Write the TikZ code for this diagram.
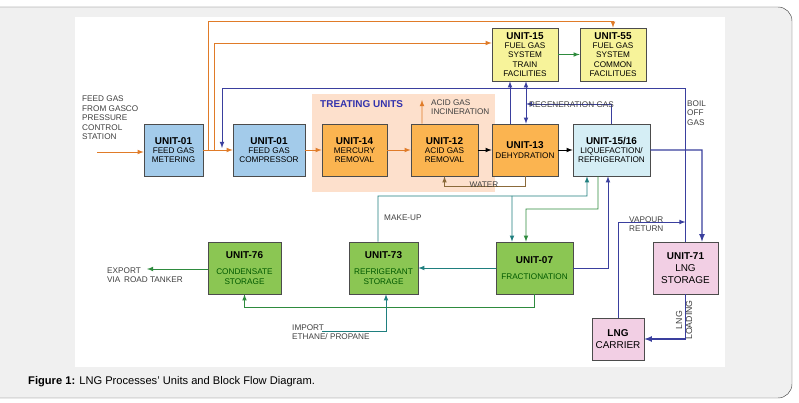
\documentclass[tikz,border=0pt]{standalone}
\usepackage{fontspec}
\setmainfont{Liberation Sans}
\usetikzlibrary{calc}
\definecolor{oline}{HTML}{E07B28}
\definecolor{bline}{HTML}{3A3F9E}
\definecolor{gline}{HTML}{2E8B3E}
\definecolor{tline}{HTML}{1F7F7F}
\definecolor{wline}{HTML}{8B6A3A}
\definecolor{ublue}{HTML}{A3CBEA}
\definecolor{uorange}{HTML}{FBB450}
\definecolor{ucyan}{HTML}{D5EEF5}
\definecolor{uyellow}{HTML}{F7F39A}
\definecolor{ugreen}{HTML}{8BC653}
\definecolor{upink}{HTML}{F2CFE4}
\definecolor{treat}{HTML}{FDE0CC}
\tikzset{
  unit/.style={draw=black!70, semithick, inner sep=0pt, minimum height=1.56cm, align=center,
    font=\fontsize{7}{8}\selectfont},
  oarr/.style={-latex, oline, thick},
  barr/.style={-latex, bline, thick},
  garr/.style={-latex, gline, thick},
  tarr/.style={-latex, tline, thick},
  karr/.style={-latex, black, thick},
  warr/.style={-latex, wline, thick},
  lbl/.style={font=\fontsize{7}{8}\selectfont, text=black!75, align=left, inner sep=0pt}
}
\newcommand{\ut}[1]{{\fontsize{8.5}{10}\selectfont\bfseries #1}}
\begin{document}
\begin{tikzpicture}[x=0.03cm, y=-0.03cm]
		\useasboundingbox (0,0) rectangle (799,403);
		\draw[black!70, fill=black!6, rounded corners=12] (-20,7) rectangle (792,398);
		\fill[white] (75,17) rectangle (725,367);
		\fill[treat] (312,94) rectangle (495,192);
		
		% units
		\node[unit, fill=ublue, minimum width=1.77cm] (m01) at (173.5,150) {\ut{UNIT-01}\\FEED GAS\\METERING};
		\node[unit, fill=ublue, minimum width=2.16cm] (c01) at (269,150) {\ut{UNIT-01}\\FEED GAS\\COMPRESSOR};
		\node[unit, fill=uorange, minimum width=1.95cm] (u14) at (354.5,150) {\ut{UNIT-14}\\MERCURY\\REMOVAL};
		\node[unit, fill=uorange, minimum width=2.01cm] (u12) at (444.5,150) {\ut{UNIT-12}\\ACID GAS\\REMOVAL};
		\node[unit, fill=uorange, minimum width=1.98cm] (u13) at (525,150) {\ut{UNIT-13}\\DEHYDRATION};
		\node[unit, fill=ucyan, minimum width=2.31cm] (u1516) at (611.5,150) {\ut{UNIT-15/16}\\LIQUEFACTION/\\REFRIGERATION};
		\node[unit, fill=uyellow, minimum width=1.98cm, minimum height=1.59cm] (u15) at (525,54.5) {\ut{UNIT-15}\\FUEL GAS\\SYSTEM\\TRAIN\\FACILITIES};
		\node[unit, fill=uyellow, minimum width=1.98cm, minimum height=1.59cm] (u55) at (613,54.5) {\ut{UNIT-55}\\FUEL GAS\\SYSTEM\\COMMON\\FACILITUES};
		\node[unit, fill=ugreen, minimum width=2.19cm, text=green!35!black] (u76) at (244.5,268) {\ut{\textcolor{black}{UNIT-76}}\\[6pt]CONDENSATE\\STORAGE};
		\node[unit, fill=ugreen, minimum width=2.07cm, text=green!35!black] (u73) at (383.5,268) {\ut{\textcolor{black}{UNIT-73}}\\[6pt]REFRIGERANT\\STORAGE};
		\node[unit, fill=ugreen, minimum width=2.31cm, text=green!35!black] (u07) at (534.5,268) {\ut{\textcolor{black}{UNIT-07}}\\[6pt]FRACTIONATION};
		\node[unit, fill=upink, minimum width=1.95cm, font=\fontsize{8.5}{10}\selectfont] (u71) at (685.5,268) {\ut{UNIT-71}\\LNG\\STORAGE};
		\node[unit, fill=upink, minimum width=1.56cm, minimum height=1.26cm, font=\fontsize{8.5}{10}\selectfont] (car) at (618,339) {\ut{LNG}\\CARRIER};
		
		% feed and fuel gas
		\coordinate (feed) at (97,152);
		\draw[oarr] (feed) -- (m01.west |- feed);
		\draw[oarr] (m01) -- (c01);
		\draw[oarr] (208,150) -- (208,21) -| (u55.north);
		\draw[oarr] (214,150) |- ([yshift=0.345cm]u15.west);
		\draw[oarr] (c01) -- (u14);
		\draw[oarr] (u14) -- (u12);
		\coordinate (acid) at (422,100);
		\draw[oarr] ([xshift=-0.675cm]u12.north) -- (acid);
		\draw[karr] (u12) -- (u13);
		\draw[karr] (u13) -- (u1516);
		\draw[garr] (u15) -- (u55);
		\draw[warr] (u13.south) -- (525,186) -| (u12.south);
		
		% blue lines
		\draw[barr] (u71.north) -- (685.5,88) -| (222,148);
		\draw[barr, very thick] (u1516.east) -- (702,150) -- ([xshift=0.495cm]u71.north);
		\draw[barr] ([xshift=-0.45cm]u13.north) -- ([xshift=-0.45cm]u15.south);
		\coordinate (rg) at (526,104);
		\draw[barr] (u1516.north) |- (rg);
		\draw[barr] (rg) -- (rg |- u15.south);
		\draw[barr] (rg) -- (rg |- u13.north);
		\draw[barr] (u07.east) -| ([xshift=-0.105cm]u1516.south);
		\draw[barr] (car.north) -- (618,222) -- (685.5,222);
		\draw[barr, very thick] (u71.south) |- (car.east);
		
		% green and teal
		\draw[garr] ([xshift=-0.405cm]u1516.south) -- (598,209) -| ([xshift=-0.255cm]u07.north);
		\draw[tarr] ([xshift=-0.165cm]u73.north) |- (587,196) -- ([xshift=-0.735cm]u1516.south);
		\draw[tarr] (512,196) -- ([xshift=-0.675cm]u07.north);
		\draw[tarr] (u07.west) -- (u73.east);
		\draw[garr] (u07.south) -- (534.5,307) -| (u76.south);
		\coordinate (exp) at (147,269);
		\draw[garr] (u76.west |- exp) -- (exp);
		\coordinate (imp) at (322,331);
		\draw[tarr] (imp) -| ([xshift=0.075cm]u73.south);
		
		% labels
		\node[lbl, anchor=north west] (tfeed) at (82,96) {FEED GAS\\FROM GASCO\\PRESSURE\\CONTROL\\STATION};
		\node[lbl, anchor=west, font=\fontsize{8.5}{9}\selectfont\bfseries, text=blue!60!black!80] (ttreat) at (320,104) {TREATING UNITS};
		\node[lbl, anchor=west] (tacid) at (431,107) {ACID GAS\\INCINERATION};
		\node[lbl, anchor=south west] (tregen) at (529,108) {REGENERATION GAS};
		\node[lbl, anchor=center] (twater) at (484,185) {WATER};
		\node[lbl, anchor=west] (tboil) at (687,113) {BOIL\\OFF\\GAS};
		\node[lbl, anchor=west] (tvap) at (629,224) {VAPOUR\\RETURN};
		\node[lbl, anchor=west] (tmake) at (384,218) {MAKE-UP};
		\node[lbl, anchor=west] (texp) at (107,275) {EXPORT\\VIA\, ROAD TANKER};
		\node[lbl, anchor=west] (timp) at (292,332) {IMPORT\\ETHANE/ PROPANE};
		\node[lbl, rotate=90, align=center, font=\fontsize{7.5}{8.5}\selectfont] (tload) at (684,320) {LNG\\LOADING};
		\node[anchor=west, inner sep=0pt, font=\fontsize{9.5}{11}\selectfont] (cap) at (28,382) {\textbf{Figure 1:} LNG Processes’ Units and Block Flow Diagram.};
	\end{tikzpicture}
\end{document}
